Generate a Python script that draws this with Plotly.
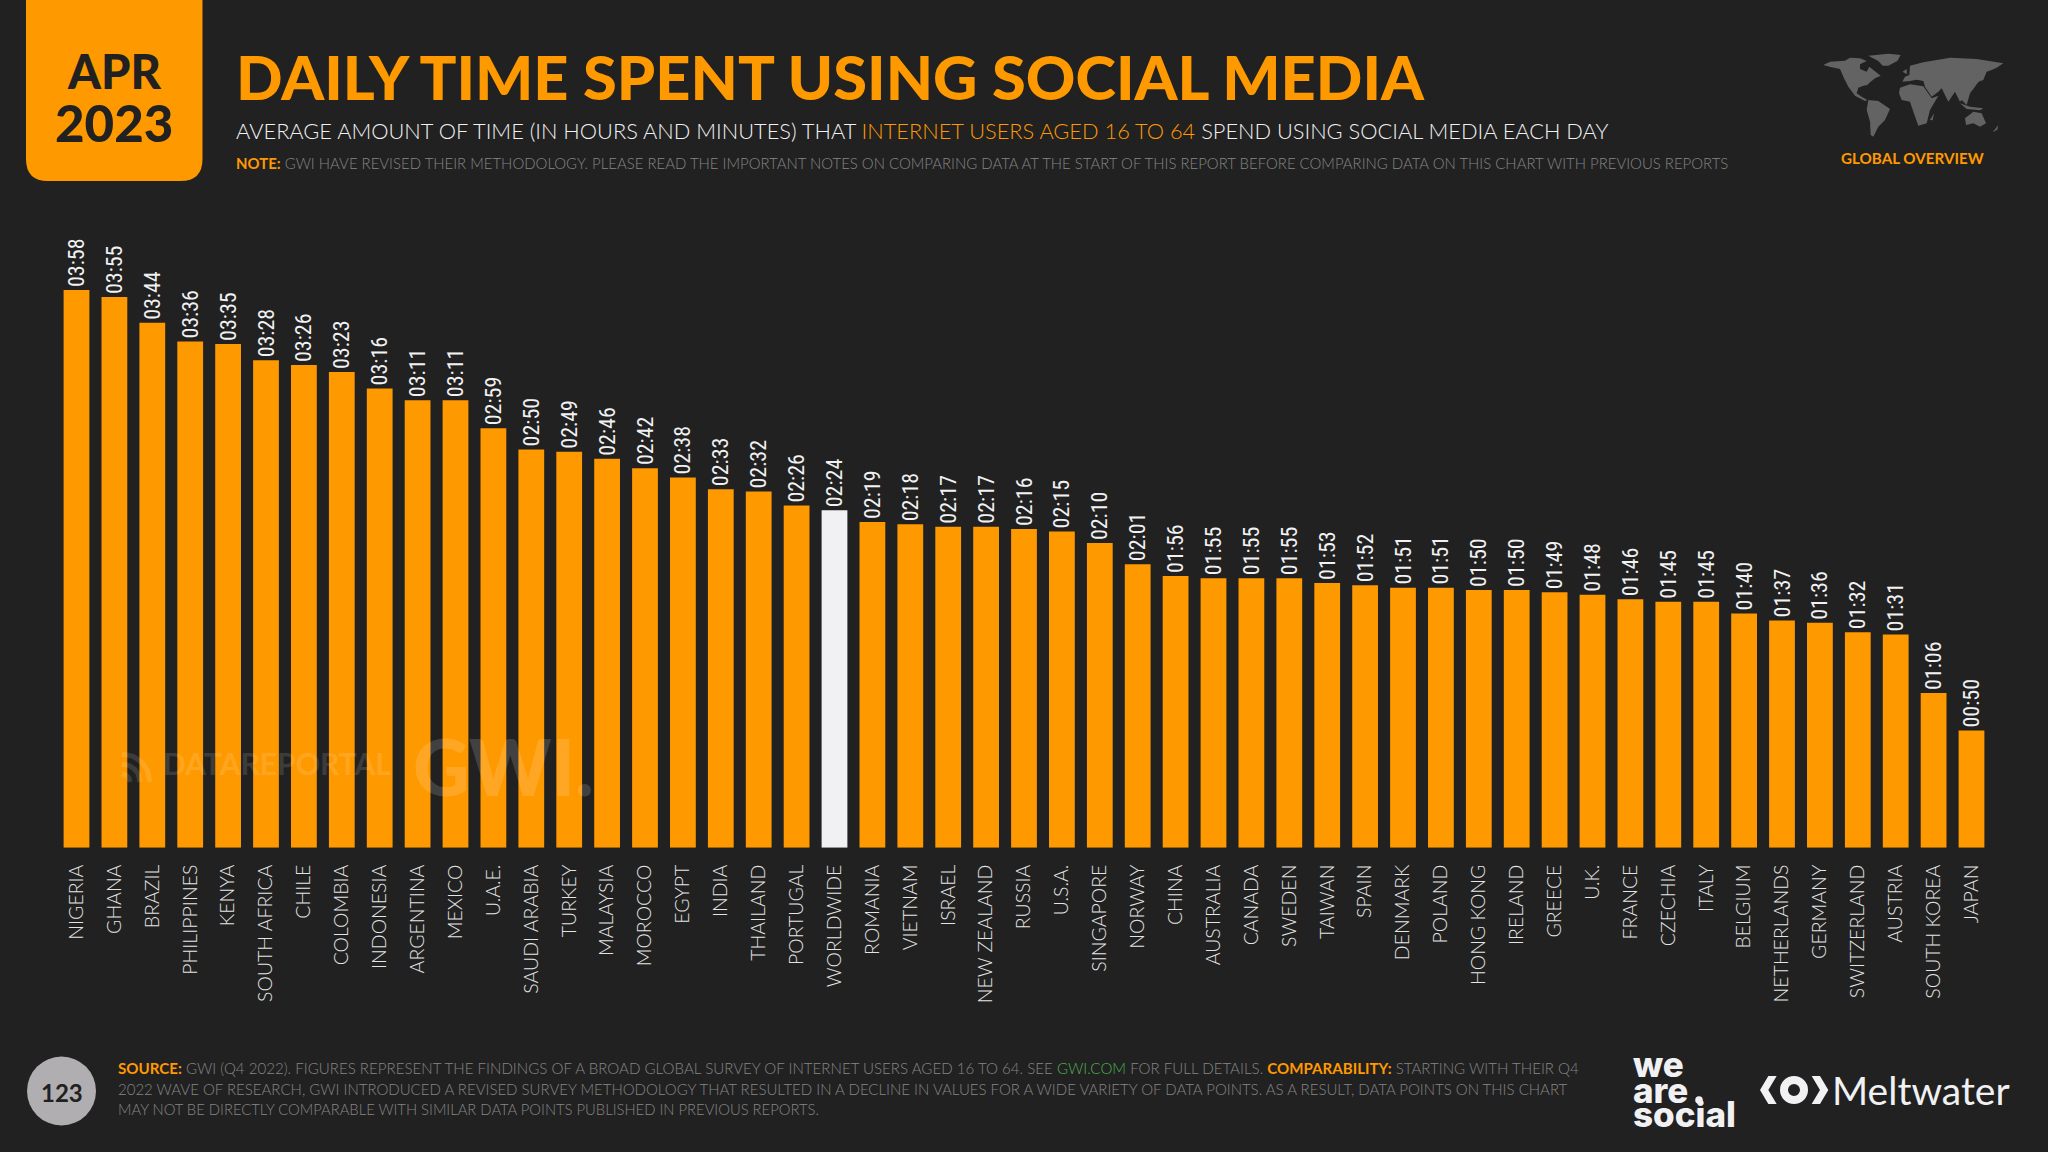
#!/usr/bin/python3
# Daily time spent using social media, by country, as a slide-style bar chart.

import plotly.graph_objects as go

W, H = 2048, 1152
BG = "#212121"
ORANGE = "#ff9900"
LIGHT = "#f1f1f3"
GREY = "#858585"

countries = ["NIGERIA", "GHANA", "BRAZIL", "PHILIPPINES", "KENYA", "SOUTH AFRICA", "CHILE", "COLOMBIA",
             "INDONESIA", "ARGENTINA", "MEXICO", "U.A.E.", "SAUDI ARABIA", "TURKEY", "MALAYSIA", "MOROCCO",
             "EGYPT", "INDIA", "THAILAND", "PORTUGAL", "WORLDWIDE", "ROMANIA", "VIETNAM", "ISRAEL",
             "NEW ZEALAND", "RUSSIA", "U.S.A.", "SINGAPORE", "NORWAY", "CHINA", "AUSTRALIA", "CANADA",
             "SWEDEN", "TAIWAN", "SPAIN", "DENMARK", "POLAND", "HONG KONG", "IRELAND", "GREECE", "U.K.",
             "FRANCE", "CZECHIA", "ITALY", "BELGIUM", "NETHERLANDS", "GERMANY", "SWITZERLAND", "AUSTRIA",
             "SOUTH KOREA", "JAPAN"]
minutes = [238, 235, 224, 216, 215, 208, 206, 203, 196, 191, 191, 179, 170, 169, 166, 162, 158, 153, 152,
           146, 144, 139, 138, 137, 137, 136, 135, 130, 121, 116, 115, 115, 115, 113, 112, 111, 111, 110,
           110, 109, 108, 106, 105, 105, 100, 97, 96, 92, 91, 66, 50]
labels = [f"{m // 60:02d}:{m % 60:02d}" for m in minutes]
colors = [LIGHT if c == "WORLDWIDE" else ORANGE for c in countries]


def px(x, y):
    return x / W, 1 - y / H


def path(points, close=True):
    parts = []
    for i, (x, y) in enumerate(points):
        a, b = px(x, y)
        parts.append(f"{'M' if i == 0 else 'L'}{a:.5f},{b:.5f}")
    return " ".join(parts) + (" Z" if close else "")


def note(text, x, y, size, color=LIGHT, weight=400, family="Lato", xanchor="left", opacity=1):
    a, b = px(x, y)
    fig.add_annotation(text=text, x=a, y=b, xref="paper", yref="paper", showarrow=False, xanchor=xanchor,
                       yanchor="middle", borderpad=0, opacity=opacity,
                       font=dict(family=family, size=size, color=color, weight=weight))


def blob(points, color):
    fig.add_shape(type="path", path=path(points), xref="paper", yref="paper", fillcolor=color, line_width=0,
                  layer="below")


def circle(cx, cy, r, **kw):
    x0, y0 = px(cx - r, cy + r)
    x1, y1 = px(cx + r, cy - r)
    fig.add_shape(type="circle", x0=x0, y0=y0, x1=x1, y1=y1, xref="paper", yref="paper", **kw)


fig = go.Figure(go.Bar(x=list(range(len(countries))), y=minutes, marker_color=colors, marker_line_width=0,
                       width=0.68, text=labels, textposition="outside", textangle=-90, cliponaxis=False,
                       constraintext="none",
                       textfont=dict(family="'Roboto Condensed','Open Sans Condensed','Liberation Sans Narrow',"
                                            "'DejaVu Sans Condensed',Roboto,sans-serif", size=22, color=LIGHT)))

fig.update_layout(width=W, height=H, margin=dict(l=0, r=0, t=0, b=0), paper_bgcolor=BG, plot_bgcolor=BG,
                  showlegend=False, font_family="Lato")
fig.update_xaxes(range=[-76.5 / 37.9, (W - 76.5) / 37.9], tickmode="array", tickvals=list(range(len(countries))),
                 ticktext=countries, tickangle=-90, ticks="", showgrid=False, zeroline=False, showline=False,
                 ticklabelstandoff=12, tickfont=dict(family="Lato", size=19.5, color="#e4e4e4", weight=300))
fig.update_yaxes(domain=[1 - 847.7 / H, 1], range=[0, 847.7 / 2.343], visible=False)

# date tab
r = 22
x0, x1, yb = 26, 202.5, 181
a, b = px(x0, yb)
c, d = px(x1, yb)
fig.add_shape(type="path", xref="paper", yref="paper", fillcolor=ORANGE, line_width=0, layer="below",
              path=f"M{a},1 L{c},1 L{c},{1 - (yb - r) / H} Q{c},{d} {(x1 - r) / W},{d} "
                   f"L{(x0 + r) / W},{d} Q{a},{b} {a},{1 - (yb - r) / H} Z")
note("APR", 114, 71, 47, BG, 900, xanchor="center")
note("2023", 114, 122, 51, BG, 900, xanchor="center")

# headings
note("DAILY TIME SPENT USING SOCIAL MEDIA", 235, 76, 61.3, ORANGE, 900)
note(f"AVERAGE AMOUNT OF TIME (IN HOURS AND MINUTES) THAT <span style='color:{ORANGE}'>INTERNET USERS AGED 16 TO 64"
     "</span> SPEND USING SOCIAL MEDIA EACH DAY", 235, 130, 21.8, LIGHT, 300)
note(f"<b><span style='color:{ORANGE}'>NOTE:</span></b> GWI HAVE REVISED THEIR METHODOLOGY. PLEASE READ THE IMPORTANT "
     "NOTES ON COMPARING DATA AT THE START OF THIS REPORT BEFORE COMPARING DATA ON THIS CHART WITH PREVIOUS REPORTS",
     235, 163, 14.95, GREY, 300)

# world map, traced roughly from the crop
MAP = "#636363"
world = [
    [(40, 60), (60, 50), (105, 47), (120, 38), (150, 40), (170, 48), (150, 58), (150, 72), (170, 80), (178, 65),
     (190, 75), (212, 92), (195, 100), (180, 112), (172, 120), (160, 122), (145, 128), (140, 145), (155, 155),
     (172, 165), (165, 168), (135, 152), (115, 125), (102, 100), (90, 72), (62, 66)],
    [(175, 32), (235, 26), (272, 30), (262, 48), (235, 62), (218, 62), (205, 48)],
    [(175, 165), (205, 168), (240, 192), (225, 225), (205, 245), (190, 275), (182, 270), (180, 230), (170, 195)],
    [(270, 128), (300, 118), (340, 124), (365, 160), (385, 152), (360, 195), (350, 235), (325, 242), (310, 200),
     (300, 170), (275, 165), (267, 145)],
    [(277, 110), (285, 95), (298, 90), (300, 62), (340, 52), (420, 38), (500, 42), (580, 55), (560, 68), (545, 75),
     (530, 80), (520, 105), (500, 112), (495, 125), (480, 145), (470, 180), (455, 165), (450, 170), (435, 140),
     (415, 170), (395, 130), (385, 140), (365, 155), (345, 125), (340, 108), (320, 104), (300, 108)],
    [(465, 220), (490, 200), (515, 205), (528, 235), (510, 245), (490, 235), (468, 240)],
    [(450, 175), (480, 185), (520, 190), (510, 196), (470, 192)],
    [(498, 88), (508, 108), (495, 124), (490, 115)],
    [(548, 262), (565, 240), (562, 254)],
    [(360, 225), (372, 205), (368, 226)],
    [(278, 80), (290, 72), (290, 88)],
]
for poly in world:
    blob([(1810 + x / 3, 45 + y / 3) for x, y in poly], MAP)
note("GLOBAL OVERVIEW", 1912, 158, 15.2, ORANGE, 700, xanchor="center")

# watermarks
note("DATAREPORTAL", 162, 763, 30, "#ffffff", 700, opacity=0.12)
note("GWI.", 412, 766, 78, "#ffffff", 900, opacity=0.14)
for r_arc in (8, 18, 28):
    pts = [(122 + r_arc * k, 782 - r_arc * (1 - k * k) ** 0.5) for k in (0, 0.4, 0.7, 0.9, 1)]
    fig.add_shape(type="path", path=path(pts, close=False), xref="paper", yref="paper",
                  line=dict(color="rgba(255,255,255,0.12)", width=5))

# footer
circle(61.5, 1091, 34.5, fillcolor="#b0aeb0", line_width=0, layer="below")
note("123", 61.5, 1092, 24, BG, 700, xanchor="center")
note(f"<b><span style='color:{ORANGE}'>SOURCE:</span></b> GWI (Q4 2022). FIGURES REPRESENT THE FINDINGS OF A BROAD GLOBAL "
     "SURVEY OF INTERNET USERS AGED 16 TO 64. SEE <span style='color:#4caf50'>GWI.COM</span> FOR FULL DETAILS. "
     f"<b><span style='color:{ORANGE}'>COMPARABILITY:</span></b> STARTING WITH THEIR Q4", 117, 1068, 15.1, GREY, 300)
note("2022 WAVE OF RESEARCH, GWI INTRODUCED A REVISED SURVEY METHODOLOGY THAT RESULTED IN A DECLINE IN VALUES FOR A "
     "WIDE VARIETY OF DATA POINTS. AS A RESULT, DATA POINTS ON THIS CHART", 117, 1089, 15, GREY, 300)
note("MAY NOT BE DIRECTLY COMPARABLE WITH SIMILAR DATA POINTS PUBLISHED IN PREVIOUS REPORTS.", 117, 1109, 14.8, GREY, 300)

# partner logos
note("we", 1632, 1064, 35, LIGHT, 800, "Inter")
note("are", 1632, 1090, 35, LIGHT, 800, "Inter")
note("social", 1632, 1114, 35, LIGHT, 800, "Inter")
circle(1699, 1100, 3.8, fillcolor=LIGHT, line_width=0)
blob([(1620 + x / 3, 1040 + y / 3) for x, y in [(470, 108), (445, 108), (420, 150), (445, 192), (470, 192), (445, 150)]], LIGHT)
blob([(1620 + x / 3, 1040 + y / 3) for x, y in [(575, 108), (600, 108), (625, 150), (600, 192), (575, 192), (600, 150)]], LIGHT)
circle(1794, 1090, 10, fillcolor="rgba(0,0,0,0)", line=dict(color=LIGHT, width=8))
note("Meltwater", 1831, 1090, 39, LIGHT, 400)

fig.write_html("out.html", config={"displayModeBar": False},
               post_script="document.body.style.margin='0';document.body.style.background='" + BG + "';")
